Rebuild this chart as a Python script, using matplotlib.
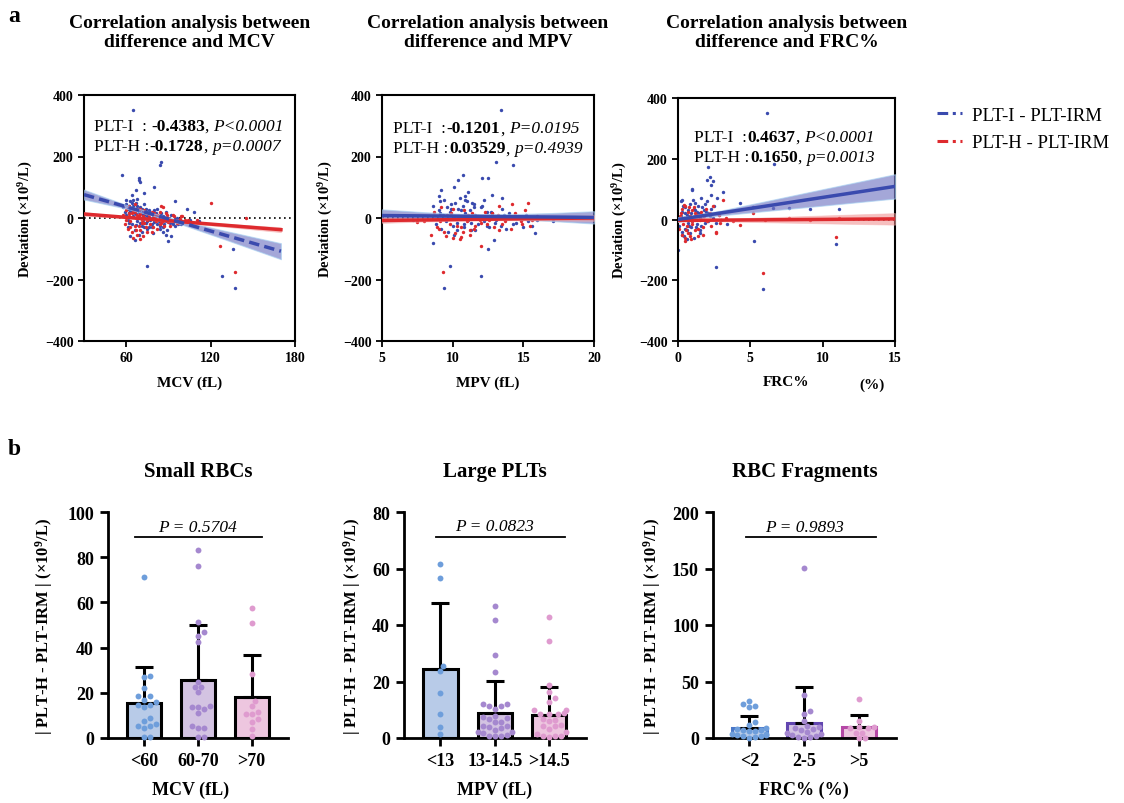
import numpy as np
import matplotlib
matplotlib.use('Agg')
import matplotlib.pyplot as plt
from matplotlib.lines import Line2D

plt.rcParams['font.family'] = ['Liberation Serif', 'DejaVu Serif']
plt.rcParams['mathtext.fontset'] = 'custom'
plt.rcParams['mathtext.rm'] = 'Liberation Serif'
plt.rcParams['mathtext.bf'] = 'Liberation Serif:bold'
plt.rcParams['mathtext.it'] = 'Liberation Serif:italic'

# ---------------- panel a : scatter data ----------------
mcv_i_x = [58, 59, 60, 60, 61, 61, 62, 62, 63, 63, 64, 64, 65, 65, 65, 66, 66, 67, 67, 68, 68, 69, 69, 70, 70,
           71, 71, 72, 72, 73, 74, 74, 75, 75, 76, 77, 78, 78, 79, 80, 80, 81, 82, 83, 84, 85, 85, 86, 87, 88,
           88, 89, 90, 91, 92, 93, 94, 95, 96, 97, 98, 99, 100, 63, 66, 68, 64, 71, 73, 76, 79, 82, 86, 88, 61,
           60, 62, 65, 85, 84, 57, 69, 69, 70, 67, 73, 80, 75, 128, 137, 136, 95, 103, 108, 90, 92, 105, 112,
           62, 64, 66, 67, 68, 69, 70, 71, 72, 73, 74, 75, 76, 77, 78, 79, 80, 81, 83, 84, 86, 87, 89, 91, 93,
           95, 97]
mcv_i_y = [35, 20, 45, 10, 28, -5, 40, 15, 55, 22, 30, -20, 60, 5, 38, 25, -40, 48, 12, 30, -10, 20, -55, 35, 0,
           15, -25, 22, -8, 10, 30, -15, 5, -35, 18, -5, 12, -20, 0, 25, -12, 8, -18, 5, -25, 15, -5, -30, 0, -10,
           20, -40, -5, -15, 10, -20, -8, -25, 0, -12, -5, -18, -10, -60, -70, 62, 75, -45, 45, -30, -50, 30, -45,
           -55, -30, 60, -15, 350, 182, 172, 140, 130, 125, 118, 90, 80, 100, -155, -188, -228, -100, 55, 28, 20,
           -75, -60, -5, -10,
           28, 48, 15, -22, 40, 5, -15, 30, 10, -30, 20, -10, 25, 0, -28, 10, -5, 15, -10, -35, 5, -20, 0, -8,
           -15, -2, -20]
mcv_h_x = [58, 59, 60, 61, 62, 62, 63, 64, 64, 65, 66, 66, 67, 68, 68, 69, 70, 70, 71, 72, 72, 73, 74, 75, 76,
           77, 78, 79, 80, 81, 82, 83, 84, 85, 86, 87, 88, 89, 90, 92, 94, 96, 98, 100, 102,
           120, 127, 137, 145, 110, 104, 66, 70, 85,
           60, 62, 63, 65, 67, 68, 69, 70, 71, 73, 74, 75, 76, 78, 79, 80, 82, 84, 86, 88, 90, 91, 93, 95, 97, 99]
mcv_h_y = [10, -20, 25, -35, 5, 40, -10, -45, 15, -65, 20, -25, 0, -55, 30, 8, -40, 12, -15, -60, 5, 25, -30, -5,
           10, -20, -45, 0, 15, -10, -35, 5, 20, -15, 35, -25, -5, 10, -12, -8, 5, -15, -2, 8, -5,
           48, -90, -175, 0, -8, -5, 45, -68, 40,
           -8, 15, -30, 22, -40, 10, -25, 30, -5, -15, 15, -45, 0, 20, -30, 5, 10, -20, -10, 15, 0, -25, 10, -5,
           -15, 5]

mpv_i_x = [8.6, 8.8, 9.0, 9.1, 9.2, 9.3, 9.4, 9.5, 9.6, 9.7, 9.8, 9.9, 10.0, 10.1, 10.2, 10.3, 10.4, 10.5, 10.6,
           10.7, 10.8, 10.9, 11.0, 11.1, 11.2, 11.3, 11.5, 11.6, 11.8, 12.0, 12.2, 12.4, 12.6, 12.8, 13.0, 13.2,
           13.4, 13.6, 13.8, 14.0, 14.3, 14.6, 15.0, 15.3, 15.6, 16.0,
           13.4, 13.1, 14.3, 9.4, 9.8, 12.0, 12.5, 10.7, 10.4, 10.1, 9.2, 12.1, 12.5, 12.8, 11.1, 13.5, 8.6, 15.8,
           17.1, 12.9, 11.6, 7.2, 9.0, 10.9, 11.4,
           9.1, 9.5, 9.9, 10.3, 10.6, 10.9, 11.3, 11.7, 12.1, 12.4, 12.7, 13.1, 13.5, 14.0, 14.5, 15.2, 10.1,
           10.8, 11.5, 12.2]
mpv_i_y = [40, -20, 25, 55, -35, 10, 60, -10, 35, -45, 20, 45, -25, 5, 50, -15, 30, 65, 0, 40, -30, 15, 55, -5,
           25, -40, 45, 10, -20, 35, -10, 20, -30, 15, -15, 5, -25, 10, -35, 0, -20, 5, -30, -10, -25, -5,
           350, 182, 172, -228, -155, -188, -100, 140, 122, 100, 90, 130, 130, 75, 85, 65, -80, -50,
           -10, -70, -40, -5, 70, 60, 50,
           15, -5, 30, -40, 25, 70, -15, 5, 40, -25, 20, -5, 30, 15, -15, 10, -55, -20, 35, 60]
mpv_h_x = [8.5, 8.7, 9.0, 9.2, 9.4, 9.6, 9.8, 10.0, 10.2, 10.4, 10.6, 10.8, 11.0, 11.2, 11.4, 11.6, 11.8, 12.0,
           12.3, 12.6, 12.9, 13.2, 13.5, 13.8, 14.1, 14.4, 14.8, 15.1, 15.5, 16.0,
           9.3, 12.0, 7.5, 8.0, 15.3, 14.2, 13.3, 10.0, 10.6, 11.2,
           9.1, 9.5, 9.9, 10.3, 10.7, 11.1, 11.5, 11.9, 12.4, 12.8, 13.3, 13.7, 14.3, 14.9, 15.6, 8.9, 10.5]
mpv_h_y = [-55, 20, -35, 35, -45, 10, -20, 30, -50, 5, -30, 25, -10, -40, 15, -25, 5, -15, 20, -5, -30, 10, -20,
           0, -35, 15, -10, 25, -25, 5,
           -175, -90, -12, -10, 48, 45, 40, -65, -62, -55,
           -10, -60, 15, -25, -45, 10, -35, -5, -20, 15, -40, -10, 5, -20, -5, -30, -68]

frc_i_x = [0.1, 0.2, 0.2, 0.3, 0.3, 0.4, 0.4, 0.5, 0.5, 0.6, 0.6, 0.7, 0.7, 0.8, 0.8, 0.9, 0.9, 1.0, 1.0, 1.1,
           1.1, 1.2, 1.2, 1.3, 1.3, 1.4, 1.5, 1.5, 1.6, 1.6, 1.7, 1.8, 1.9, 2.0, 2.1, 2.2, 2.3, 2.4, 2.6, 2.8,
           3.0, 3.4,
           6.15, 6.65, 5.27, 5.9, 10.9, 2.65, 4.3, 3.1, 2.1, 2.2, 2.0, 2.4, 2.3, 9.1, 11.1, 7.7, 6.6, 0.0, 5.2,
           0.3, 1.0, 2.7,
           0.25, 0.45, 0.65, 0.85, 1.05, 1.25, 1.45, 1.65, 1.85, 2.05, 2.25, 0.35, 0.75, 1.15, 1.55, 1.95, 2.5]
frc_i_y = [-20, 10, 60, -40, 25, -55, 5, 40, -30, 15, -65, 30, -10, 50, -45, 20, -25, 100, -5, 35, -60, 10, 55,
           -15, 25, 45, -35, 5, 70, -20, 15, 30, -10, 60, 20, 10, 35, 5, -10, 15, 0, -15,
           352, 182, -71, -228, -82, -155, 55, 90, 172, 140, 130, 128, 115, 35, 35, 38, 38, -99, 42,
           65, 98, 72,
           -50, 20, -35, 10, 65, -25, 20, 40, 50, -5, 80, 45, -20, 30, -45, 25, 45]
frc_h_x = [0.1, 0.2, 0.3, 0.3, 0.4, 0.5, 0.5, 0.6, 0.7, 0.7, 0.8, 0.9, 1.0, 1.0, 1.1, 1.2, 1.3, 1.4, 1.5, 1.6,
           1.7, 1.8, 2.0, 2.2, 2.4, 2.6, 2.9, 3.3, 3.8,
           3.1, 5.2, 5.9, 10.9, 7.7, 9.1, 11.1, 6.0, 4.3, 2.6, 0.4,
           0.15, 0.35, 0.55, 0.75, 0.95, 1.15, 1.35, 1.55, 1.75, 1.95, 2.3, 2.8, 0.45, 0.85]
frc_h_y = [-30, 20, -50, 35, 5, -60, 45, -20, 25, -45, 10, -65, 30, -15, 40, -35, 15, -55, 0, 25, -25, 10, -5,
           20, 45, -40, -10, 5, -5,
           65, 22, -175, -57, 5, -3, 5, -3, -18, -45, 48,
           10, -15, -35, 40, -5, 20, -30, 10, -50, 35, -20, 15, -70, -55]

# regression lines: fitted value and half-width of the 95% band at a few x positions
mcv_fit_x = [30, 60, 80, 100, 130, 170]
mcv_i_fit = [76, 36.6, 10.3, -16, -55.4, -108]
mcv_i_hw = [16, 6, 4, 6, 14, 26]
mcv_h_fit = [13, 2.1, -5.2, -12.5, -23.4, -38]
mcv_h_hw = [6, 3, 2.5, 3, 5, 8]

mpv_fit_x = [5, 8, 11, 14, 17, 20]
mpv_i_fit = [8, 6.8, 5.6, 4.4, 3.2, 2]
mpv_i_hw = [20, 12, 7, 8, 13, 20]
mpv_h_fit = [-8, -6.4, -4.8, -3.2, -1.6, 0]
mpv_h_hw = [8, 5, 3, 4, 6, 9]

frc_fit_x = [0, 1, 3, 6, 10, 15]
frc_i_fit = [0, 7.3, 21.8, 43.6, 72.7, 109]
frc_i_hw = [8, 6, 8, 16, 27, 40]
frc_h_fit = [-3, -2.7, -2, -1, 0.3, 2]
frc_h_hw = [4, 3, 4, 8, 13, 19]

stats_a = [
    [("PLT-I  :", "-0.4383", "P<0.0001"), ("PLT-H :", "-0.1728", "p=0.0007")],
    [("PLT-I  :", "-0.1201", "P=0.0195"), ("PLT-H :", "0.03529", "p=0.4939")],
    [("PLT-I  :", "0.4637", "P<0.0001"), ("PLT-H :", "0.1650", "p=0.0013")],
]

# ---------------- panel b : bar + dot data ----------------
cats_mcv = ['<60', '60-70', '>70']
cats_mpv = ['<13', '13-14.5', '>14.5']
cats_frc = ['<2', '2-5', '>5']

srbc = [
    [71.1, 27.6, 26.8, 22.0, 18.4, 18.4, 16.8, 16.1, 14.6, 14.6, 13.9, 8.8, 7.7, 5.2, 5.2, 6.2, 4.3, 0.3, 0.3],
    [83.3, 76.3, 51.2, 47.0, 45.0, 42.3, 24.9, 22.7, 22.4, 20.2, 14.3, 13.6, 13.6, 12.8, 10.9, 5.5, 4.3, 4.3, 0.3, 0.3],
    [57.7, 51.0, 28.5, 16.5, 14.3, 11.7, 10.6, 10.6, 8.4, 6.9, 4.0, 0.7],
]
srbc_mean = [15.3, 25.7, 18.3]
srbc_sd = [16.0, 24.4, 18.3]

lplt = [
    [61.6, 56.5, 25.6, 23.8, 15.8, 8.4, 3.8, 1.4],
    [46.8, 41.9, 29.3, 23.2, 12.0, 12.0, 11.4, 11.2, 10.3, 7.9, 7.3, 7.0, 6.7, 5.8, 5.5, 4.1, 4.1, 3.8, 3.4, 2.9,
     2.2, 2.0, 1.7, 1.1, 0.8, 0.6, 0.6],
    [42.7, 34.2, 18.9, 16.2, 14.0, 12.6, 10.0, 10.0, 8.8, 8.5, 8.5, 8.4, 6.7, 6.5, 6.1, 4.6, 4.4, 4.1, 3.2, 2.0,
     1.4, 0.8, 0.6, 0.6, 0.2],
]
lplt_mean = [24.4, 8.8, 8.0]
lplt_sd = [23.3, 11.5, 10.1]

frag = [
    [33.0, 30.1, 28.6, 27.1, 13.9, 11.8, 8.6, 8.0, 7.4, 7.4, 6.5, 6.5, 3.5, 3.5, 2.7, 2.7, 2.1, 1.5, 0.6, 0.3],
    [150.1, 38.0, 24.2, 21.2, 15.3, 10.3, 9.4, 8.6, 8.0, 7.4, 5.0, 4.1, 3.5, 2.7, 2.1, 0.6, 0.6, 0.0],
    [34.2, 15.3, 9.4, 9.4, 8.6, 8.6, 4.4, 4.4, 0.0, 0.0],
]
frag_mean = [9.1, 13.6, 9.4]
frag_sd = [10.7, 31.5, 10.6]

p_texts = ['P = 0.5704', 'P = 0.0823', 'P = 0.9893']

# ---------------- styles ----------------
BLUE = '#3a4aae'
RED = '#de2a2e'
fills = ['#b8cbe8', '#d3c3e2', '#edc6df']
dotc = ['#6e9edb', '#a588cf', '#df9bcf']
frag_edges = ['#4a78c8', '#6246b0', '#b548a6']

fig = plt.figure(figsize=(11.24, 8.04), dpi=100)
W, H = 1124, 804


def ax_px(l, t, r, b):
    return fig.add_axes([l / W, 1 - b / H, (r - l) / W, (b - t) / H])


def stat_line(ax, x, y, parts, gap, size=12.5):
    lab, num, p = parts
    t = ax.text(x, y, lab, transform=ax.transAxes, fontsize=size, va='baseline', ha='left')
    t = ax.annotate(num, xy=(1, 0), xycoords=t, xytext=(gap, 0), textcoords='offset points',
                    fontsize=size, fontweight='bold', va='bottom', ha='left')
    t = ax.annotate(',', xy=(1, 0), xycoords=t, fontsize=size, va='bottom', ha='left')
    ax.annotate(p, xy=(1, 0), xycoords=t, xytext=(3, 0), textcoords='offset points',
                fontsize=size, fontstyle='italic', va='bottom', ha='left')


top_axes = [ax_px(84, 96, 295, 342), ax_px(382, 96, 594, 342), ax_px(678, 99, 895, 342)]
scat = [(mcv_i_x, mcv_i_y, mcv_h_x, mcv_h_y), (mpv_i_x, mpv_i_y, mpv_h_x, mpv_h_y),
        (frc_i_x, frc_i_y, frc_h_x, frc_h_y)]
fits = [(mcv_fit_x, mcv_i_fit, mcv_i_hw, mcv_h_fit, mcv_h_hw),
        (mpv_fit_x, mpv_i_fit, mpv_i_hw, mpv_h_fit, mpv_h_hw),
        (frc_fit_x, frc_i_fit, frc_i_hw, frc_h_fit, frc_h_hw)]
xlims = [(30, 180), (5, 20), (0, 15)]
xticks = [[60, 120, 180], [5, 10, 15, 20], [0, 5, 10, 15]]
xlabels = ['MCV (fL)', 'MPV (fL)', 'FRC%']
titles = ['MCV', 'MPV', 'FRC%']
ylab_x = [-0.232, -0.222, -0.226]
stat_pos = [(0.047, 0.859, 0.778), (0.053, 0.848, 0.767), (0.074, 0.824, 0.742)]
stat_gaps = [(3, 0.5), (0.5, 0.5), (0.5, 0.5)]

for i, ax in enumerate(top_axes):
    xi, yi, xh, yh = scat[i]
    fx, fi, hi, fh, hh = [np.array(v, dtype=float) for v in fits[i]]
    ax.axhline(0, color='k', ls=(0, (1, 2)), lw=1.2, zorder=1)
    ax.scatter(xi, yi, s=6, color=BLUE, lw=0, zorder=2)
    ax.scatter(xh, yh, s=6, color=RED, lw=0, zorder=2)
    ax.fill_between(fx, fi - hi, fi + hi, color='#7478c4', alpha=0.65, lw=0.8, edgecolor='#a9d2f2', zorder=3)
    ax.fill_between(fx, fh - hh, fh + hh, color='#f08c8c', alpha=0.55, lw=0.6, edgecolor='#f6b4b4', zorder=3)
    ax.plot(fx, fh, color=RED, lw=2.5, zorder=4)
    ax.plot(fx, fi, color=BLUE, lw=2.5, zorder=5, ls=(0, (3, 1.5)) if i == 0 else '-')
    ax.set_xlim(*xlims[i])
    ax.set_ylim(-400, 400)
    ax.set_xticks(xticks[i])
    ax.set_yticks([-400, -200, 0, 200, 400])
    for s in ax.spines.values():
        s.set_linewidth(1.5)
    ax.tick_params(direction='out', length=4, width=1.3, labelsize=10, top=False, right=False)
    for lb in ax.get_xticklabels() + ax.get_yticklabels():
        lb.set_fontweight('bold')
    ax.set_ylabel(r'Deviation (×10$^{\mathbf{9}}$/L)', fontsize=10.5, fontweight='bold')
    ax.yaxis.set_label_coords(ylab_x[i], 0.5)
    ax.set_xlabel(xlabels[i], fontsize=11, fontweight='bold')
    ax.xaxis.set_label_coords(0.5, -0.14)
    fig.text((ax.get_position().x0 + ax.get_position().x1) / 2, 1 - 33 / H,
             'Correlation analysis between\ndifference and ' + titles[i],
             ha='center', va='center', fontsize=14, fontweight='bold', linespacing=1.15)
    sx, sy1, sy2 = stat_pos[i]
    stat_line(ax, sx, sy1, stats_a[i][0], stat_gaps[i][0])
    stat_line(ax, sx, sy2, stats_a[i][1], stat_gaps[i][1])

fig.text(872 / W, 1 - 385 / H, '(%)', ha='center', va='center', fontsize=11, fontweight='bold')

dashdot = (0, (3.5, 1.5, 1, 1.5))
handles = [Line2D([], [], color=BLUE, ls=dashdot, lw=2.2), Line2D([], [], color=RED, ls=dashdot, lw=2.2)]
fig.legend(handles, ['PLT-I - PLT-IRM', 'PLT-H - PLT-IRM'], loc='upper left',
           bbox_to_anchor=(930 / W, 1 - 100 / H), borderaxespad=0, frameon=False, fontsize=13.5,
           handlelength=1.3, handletextpad=0.55, labelspacing=0.55)

fig.text(8 / W, 1 - 16 / H, 'a', fontsize=17, fontweight='bold', va='center')
fig.text(8 / W, 1 - 450 / H, 'b', fontsize=17, fontweight='bold', va='center')


# ---------------- panel b ----------------
def swarm(vals, py, px, d=6.0, maxw=0.31):
    vals = np.asarray(vals, dtype=float)
    order = np.argsort(vals)
    placed = []
    offs = np.zeros(len(vals))
    for j in order:
        y = vals[j] * py
        x = 0.0
        for k in range(60):
            for sgn in ([0] if k == 0 else [1, -1]):
                cand = sgn * k * d * 0.5
                if all((cand - a) ** 2 + (y - b) ** 2 >= d * d * 0.92 for a, b in placed):
                    x = cand
                    break
            else:
                continue
            break
        placed.append((x, y))
        offs[j] = x / px
    return np.clip(offs, -maxw, maxw)


bot = [
    (ax_px(107.7, 513, 288.3, 739), srbc, srbc_mean, srbc_sd, cats_mcv, 100, [0, 20, 40, 60, 80, 100],
     'Small RBCs', 'MCV (fL)', (-0.165, 2.2, 89), -0.292, 0.46, None),
    (ax_px(404, 513, 586, 739), lplt, lplt_mean, lplt_sd, cats_mpv, 80, [0, 20, 40, 60, 80],
     'Large PLTs', 'MPV (fL)', (-0.09, 2.3, 71.3), -0.225, 0.5, None),
    (ax_px(712.7, 513, 896, 739), frag, frag_mean, frag_sd, cats_frc, 200, [0, 50, 100, 150, 200],
     'RBC Fragments', 'FRC% (%)', (-0.07, 2.31, 178), -0.271, 0.5, frag_edges),
]

for k, (ax, groups, means, sds, cats, ymax, yt, title, xlab, pline, ylx, xlx, edges) in enumerate(bot):
    ax.set_xlim(-0.67, 2.68)
    ax.set_ylim(0, ymax)
    pos = ax.get_position()
    py = pos.height * H / ymax
    pxu = pos.width * W / 3.35
    xs = np.arange(3)
    ec = edges if edges else ['k'] * 3
    ax.bar(xs, means, width=0.63, color=fills, edgecolor=ec, linewidth=2.2, zorder=1)
    ax.errorbar(xs, means, yerr=[np.zeros(3), sds], fmt='none', ecolor='k', elinewidth=2.2,
                capsize=6.5, capthick=2.2, zorder=2)
    for g in range(3):
        off = swarm(groups[g], py, pxu)
        ax.scatter(g + off, groups[g], s=18, color=dotc[g], lw=0, zorder=3, clip_on=False)
    x0, x1, yl = pline
    ax.plot([x0, x1], [yl, yl], color='k', lw=1.3, zorder=4)
    ax.annotate(p_texts[k], xy=(1, yl), xytext=(0, 1.5), textcoords='offset points', ha='center',
                va='bottom', fontsize=12.5, fontstyle='italic')
    ax.spines['top'].set_visible(False)
    ax.spines['right'].set_visible(False)
    ax.spines['left'].set_linewidth(2)
    ax.spines['bottom'].set_linewidth(2)
    ax.set_xticks(xs)
    ax.set_xticklabels(cats)
    ax.set_yticks(yt)
    ax.tick_params(direction='out', length=6, width=2, labelsize=13, pad=4)
    for lb in ax.get_xticklabels() + ax.get_yticklabels():
        lb.set_fontweight('bold')
    ax.set_ylabel(r'| PLT-H - PLT-IRM | (×10$^{\mathbf{9}}$/L)', fontsize=12, fontweight='bold')
    ax.yaxis.set_label_coords(ylx, 0.5)
    ax.set_xlabel(xlab, fontsize=13, fontweight='bold')
    ax.xaxis.set_label_coords(xlx, -0.19)
    ax.set_title(title, fontsize=15, fontweight='bold', pad=0, y=(739 - 472) / 226, va='center')

fig.savefig('out.png', dpi=100)
